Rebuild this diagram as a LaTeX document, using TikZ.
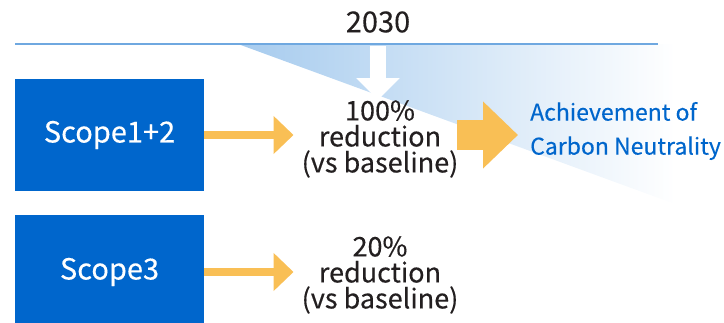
\documentclass[tikz,border=0pt]{standalone}
\usepackage{fontspec}
\setmainfont{Noto Sans CJK JP}[FakeBold=0.3]
\usetikzlibrary{arrows.meta,positioning}
\definecolor{scopeblue}{HTML}{0066CC}
\definecolor{lineblue}{HTML}{6FA8E0}
\definecolor{fadeblue}{HTML}{A6CBEE}
\definecolor{arroworange}{HTML}{F9BF55}
\definecolor{textgray}{HTML}{231F20}
\pgfdeclarehorizontalshading{fade}{100bp}{color(0bp)=(fadeblue); color(25bp)=(fadeblue); color(70bp)=(white); color(100bp)=(white)}
\tikzset{
	scopebox/.style={fill=scopeblue, text=white, minimum width=189pt, font=\fontsize{29}{30}\selectfont},
	target/.style={text=textgray, align=center, inner sep=0pt, font=\fontsize{27}{26}\selectfont},
	goal/.style={text=scopeblue, align=left, inner sep=0pt, font=\fontsize{23}{34}\selectfont},
	orangearrow/.style={arroworange, line width=8pt, -{Triangle[width=37pt,length=20pt]}},
	bigarrow/.style={arroworange, line width=30pt, -{Triangle[width=65pt,length=35pt]}},
	whitearrow/.style={white, line width=16pt, -{Triangle[width=42pt,length=22pt]}}
}
\begin{document}
\begin{tikzpicture}[x=1pt, y=-1pt]
		\useasboundingbox (0,0) rectangle (724,323);
		%fading wedge under the time line
		\shade[shading=fade] (238,44) -- (724,44) -- (724,222) -- cycle;
		\coordinate (lineL) at (15,44);
		\coordinate (lineR) at (658,44);
		\draw[lineblue, line width=2pt] (lineL) -- (lineR);
		\node[text=textgray, font=\fontsize{29}{30}\selectfont] (year) at (378,22) {2030};
		
		%scopes
		\node[scopebox, minimum height=112pt] (s12) at (109.5,135) {Scope1+2};
		\node[scopebox, minimum height=114pt] (s3) at (109.5,272) {Scope3};
		
		%targets
		\node[target] (r12) at (380,139) {100\%\\reduction\\(vs baseline)};
		\node[target] (r3) at (380,275) {20\%\\reduction\\(vs baseline)};
		\node[goal, anchor=west] (cn) at (530,131) {Achievement of\\Carbon Neutrality};
		
		%arrows
		\coordinate (drop) at (378,46);
		\draw[whitearrow] (drop) -- (drop |- r12.north);
		\draw[orangearrow, shorten >=8pt] (s12.east) -- (s12.east -| r12.west);
		\draw[orangearrow, shorten >=8pt] (s3.east) -- (s3.east -| r3.west);
		\coordinate (tail) at (457,135);
		\draw[bigarrow, shorten >=12pt] (tail) -- (tail -| cn.west);
\end{tikzpicture}
\end{document}
